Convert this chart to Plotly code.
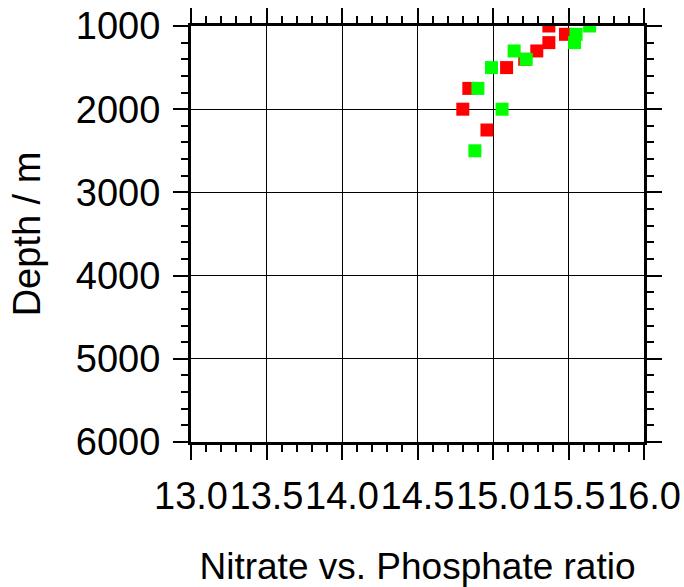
import plotly.graph_objects as go

# Nitrate:phosphate ratio profiles (two station groups)
red_depth = [1000, 1100, 1200, 1300, 1400, 1500, 1750, 2000, 2250]
red_ratio = [15.37, 15.48, 15.37, 15.29, 15.21, 15.09, 14.84, 14.80, 14.96]

green_depth = [1000, 1100, 1200, 1300, 1400, 1500, 1750, 2000, 2500]
green_ratio = [15.64, 15.55, 15.54, 15.14, 15.22, 14.99, 14.90, 15.06, 14.88]

x_ticks = [13.0, 13.5, 14.0, 14.5, 15.0, 15.5, 16.0]
y_ticks = [1000, 2000, 3000, 4000, 5000, 6000]

FONT = "Liberation Sans, Arial, Helvetica, sans-serif"

fig = go.Figure()
fig.add_trace(go.Scatter(
    x=red_ratio, y=red_depth, mode="markers",
    marker=dict(symbol="square", size=13, color="#ff0000", line=dict(width=0)),
    showlegend=False,
))
fig.add_trace(go.Scatter(
    x=green_ratio, y=green_depth, mode="markers",
    marker=dict(symbol="square", size=13, color="#00ff00", line=dict(width=0)),
    showlegend=False,
))

axis_common = dict(
    showgrid=True, gridcolor="black", gridwidth=1,
    showline=True, linecolor="black", linewidth=3,
    mirror="allticks", ticks="outside", ticklen=15, tickwidth=2, tickcolor="black",
    zeroline=False,
    tickfont=dict(family=FONT, size=38, color="black"),
)

fig.update_xaxes(
    range=[13, 16], tickvals=x_ticks, ticktext=[f"{v:.1f}" for v in x_ticks],
    tickangle=0, ticklabelstandoff=3,
    minor=dict(dtick=0.1, ticks="outside", ticklen=7, tickwidth=2, tickcolor="black", showgrid=False),
    title=dict(text="Nitrate vs. Phosphate ratio", font=dict(family=FONT, size=37, color="black"), standoff=38),
    **axis_common,
)
fig.update_yaxes(
    range=[6000, 1000], tickvals=y_ticks, ticktext=[str(v) for v in y_ticks],
    minor=dict(dtick=200, ticks="outside", ticklen=7, tickwidth=2, tickcolor="black", showgrid=False),
    title=dict(text="Depth / m", font=dict(family=FONT, size=38, color="black"), standoff=24),
    ticklabelstandoff=5,
    **axis_common,
)

fig.update_layout(
    width=684, height=587,
    margin=dict(l=191, r=40, t=26, b=145, autoexpand=False),
    paper_bgcolor="white", plot_bgcolor="white",
)

fig.write_html("out.html")
